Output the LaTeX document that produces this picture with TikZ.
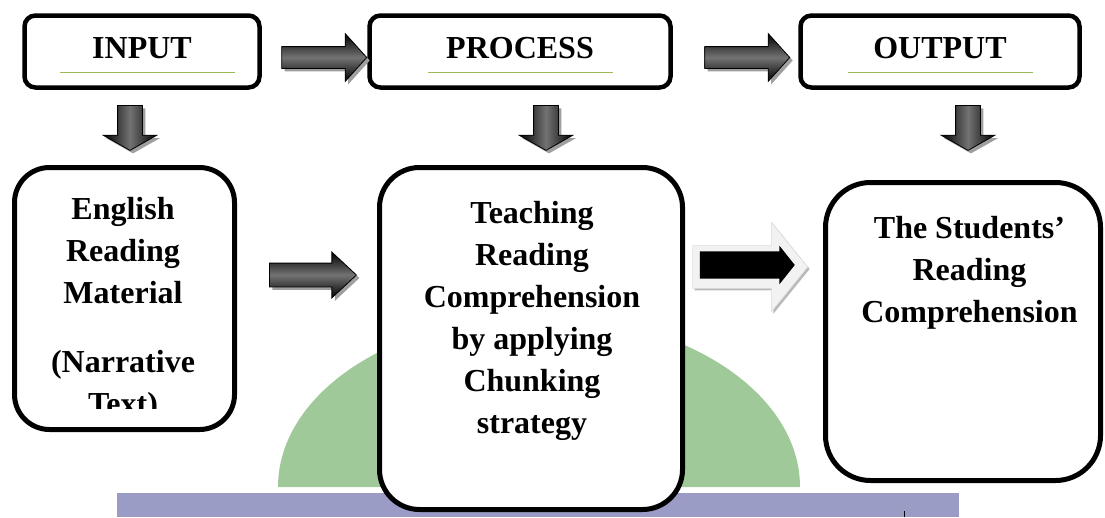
\documentclass[tikz,border=0pt]{standalone}
\usepackage{fontspec}
\setmainfont{Liberation Serif}
\usetikzlibrary{shapes.arrows,shadows}
\definecolor{linegreen}{RGB}{155,187,89}
\definecolor{domegreen}{RGB}{160,201,153}
\definecolor{barblue}{RGB}{155,156,198}
\tikzset{
  boxfont/.style={font=\bfseries\fontsize{32}{42}\selectfont},
  topbox/.style={draw,line width=4.5pt,rounded corners=11pt,fill=white,minimum height=72pt,inner sep=0pt,text depth=7pt,boxfont},
  bigbox/.style={draw,line width=5pt,fill=white,inner sep=0pt},
  boxtext/.style={align=center,inner sep=0pt,anchor=north,boxfont},
  blockarrow/.style={single arrow,draw=black,line width=0.8pt,single arrow head indent=0pt,
    top color=black,bottom color=black,middle color=black!55,
    drop shadow={shadow xshift=3pt,shadow yshift=-3pt,fill=gray!75,opacity=1}},
  downarrow/.style={blockarrow,shape border rotate=270,left color=black,right color=black,middle color=black!55,
    inner sep=12pt,minimum height=45pt,single arrow head extend=14.5pt,single arrow tip angle=121,anchor=tail}
}
\begin{document}
\begin{tikzpicture}[x=1pt,y=-1pt]
\useasboundingbox (0,0) rectangle (1105,517);
% background
\fill[domegreen] (278,487) arc[start angle=180,end angle=360,x radius=261,y radius=171] -- cycle;
\fill[barblue] (117,493) rectangle (959,517);
\draw[line width=0.8pt] (904,511) -- (904,517);

% top row
\node[topbox,minimum width=235pt] (input)   at (142,51.5) {INPUT};
\node[topbox,minimum width=301pt] (process) at (520,51.5) {PROCESS};
\node[topbox,minimum width=279pt] (output)  at (940,51.5) {OUTPUT};
\draw[linegreen,line width=1pt] (60,72) -- (235,72);
\draw[linegreen,line width=1pt] (428,72) -- (613,72);
\draw[linegreen,line width=1pt] (848,72) -- (1033,72);

\node[blockarrow,inner sep=10.5pt,minimum height=85pt,single arrow head extend=13pt,single arrow tip angle=96,anchor=tip]
  (inproc) at ([yshift=-6pt]process.west) {};
\node[blockarrow,inner sep=10.5pt,minimum height=85pt,single arrow head extend=13pt,single arrow tip angle=96,anchor=tip]
  (procout) at ([xshift=-8pt,yshift=-6pt]output.west) {};

\node[downarrow] (indown)   at (130,105) {};
\node[downarrow] (procdown) at (546,105) {};
\node[downarrow] (outdown)  at (968,105) {};

% bottom row
\node[bigbox,rounded corners=35pt,minimum width=220pt,minimum height=262pt] (material) at (124.5,298.5) {};
\node[bigbox,rounded corners=40pt,minimum width=303pt,minimum height=342pt] (teaching) at (531,338.5) {};
\node[bigbox,rounded corners=45pt,minimum width=275pt,minimum height=298pt] (result)   at (963,331.5) {};

\begin{scope}
\clip (15,170) rectangle (234,408);
\node[boxtext] (materialtext) at (123,197) {English\\Reading\\Material\\[27pt](Narrative\\Text)};
\end{scope}
\node[boxtext] (teachingtext) at (532,201) {Teaching\\Reading\\Comprehension\\by applying\\Chunking\\strategy};
\node[boxtext] (resulttext) at (969.5,216) {The Students’\\Reading\\Comprehension};

\node[blockarrow,inner sep=11.5pt,minimum height=87pt,single arrow head extend=11pt,single arrow tip angle=86,anchor=tip]
  (matteach) at (357,275) {};
\node[single arrow,fill=gray!10,draw=gray!25,line width=0.6pt,inner sep=21pt,single arrow head indent=0pt,
  minimum height=115pt,single arrow head extend=23.5pt,single arrow tip angle=102,anchor=tip,
  drop shadow={shadow xshift=2pt,shadow yshift=-2pt,fill=gray!55,opacity=1}] (glow) at (808,267) {};
\node[single arrow,fill=black,inner sep=13.5pt,single arrow head indent=0pt,
  minimum height=95pt,single arrow head extend=5.5pt,single arrow tip angle=103,anchor=tip]
  (teachres) at (795,265) {};
\end{tikzpicture}
\end{document}
